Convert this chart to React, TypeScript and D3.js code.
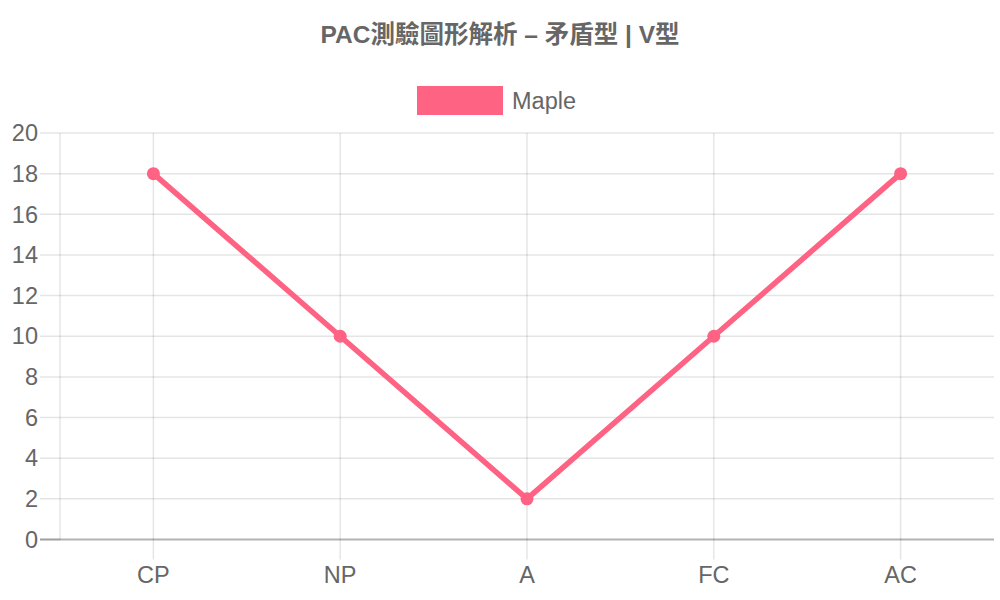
import * as d3 from 'd3'
import React from 'react'

const title = 'PAC測驗圖形解析 – 矛盾型 | V型'
const seriesName = 'Maple'
const categories = ['CP', 'NP', 'A', 'FC', 'AC']
const values = [18, 10, 2, 10, 18]
const yTicks = [0, 2, 4, 6, 8, 10, 12, 14, 16, 18, 20]

const W = 1000
const H = 600
const left = 60
const right = 994
const top = 133
const bottom = 539.5
const font = "'Helvetica Neue', Helvetica, Arial, 'Noto Sans CJK TC', sans-serif"
const pink = '#ff6384'

export default function App() {
  const x = d3.scalePoint<string>().domain(categories).range([left, right]).padding(0.5)
  const y = d3.scaleLinear().domain([0, 20]).range([bottom, top])

  const line = d3
    .line<number>()
    .x((_, i) => x(categories[i]) ?? 0)
    .y((d) => y(d))

  return (
    <svg width={W} height={H} style={{ position: 'absolute', left: 0, top: 0, background: '#fff' }}>
      <text x={W / 2} y={43} textAnchor="middle" fontFamily={font} fontSize={24.5} fontWeight="bold" fill="#666">
        {title}
      </text>

      {/* legend */}
      <rect x={417} y={86} width={86} height={29} fill={pink} />
      <text x={512} y={108.5} fontFamily={font} fontSize={23.5} fill="#666">
        {seriesName}
      </text>

      {/* horizontal grid + y ticks */}
      {yTicks.map((t) => (
        <g key={t}>
          <line
            x1={40}
            x2={right}
            y1={y(t)}
            y2={y(t)}
            stroke={t === 0 ? 'rgba(0,0,0,0.3)' : 'rgba(0,0,0,0.1)'}
            strokeWidth={t === 0 ? 2 : 1.5}
          />
          <text x={38} y={y(t)} dy="0.35em" textAnchor="end" fontFamily={font} fontSize={23.5} fill="#666">
            {t}
          </text>
        </g>
      ))}
      <line x1={40} x2={left} y1={bottom} y2={bottom} stroke="rgba(0,0,0,0.1)" strokeWidth={2} />

      {/* vertical grid + x ticks */}
      <line x1={left} x2={left} y1={top} y2={bottom} stroke="rgba(0,0,0,0.1)" strokeWidth={1.5} />
      {categories.map((c) => (
        <g key={c}>
          <line
            x1={x(c)}
            x2={x(c)}
            y1={top}
            y2={bottom + 20}
            stroke="rgba(0,0,0,0.1)"
            strokeWidth={1.5}
          />
          <text x={x(c)} y={582.5} textAnchor="middle" fontFamily={font} fontSize={23.5} fill="#666">
            {c}
          </text>
        </g>
      ))}

      <path d={line(values) ?? ''} fill="none" stroke={pink} strokeWidth={5.5} strokeLinejoin="round" />
      {values.map((v, i) => (
        <circle key={i} cx={x(categories[i])} cy={y(v)} r={6.5} fill={pink} />
      ))}
    </svg>
  )
}
